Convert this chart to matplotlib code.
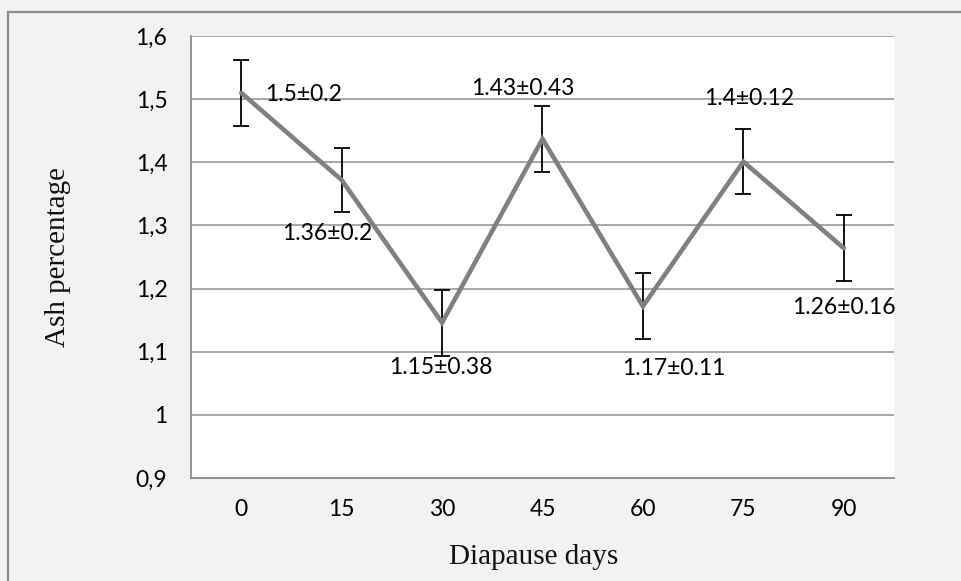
import matplotlib
matplotlib.use("Agg")
import matplotlib.pyplot as plt
from matplotlib.patches import Rectangle

# data
days = ["0", "15", "30", "45", "60", "75", "90"]
ash = [1.510, 1.372, 1.146, 1.437, 1.172, 1.401, 1.264]
err = [0.052, 0.051, 0.052, 0.052, 0.052, 0.051, 0.052]
point_labels = ["1.5±0.2", "1.36±0.2", "1.15±0.38", "1.43±0.43",
                "1.17±0.11", "1.4±0.12", "1.26±0.16"]
y_ticks = [0.9, 1.0, 1.1, 1.2, 1.3, 1.4, 1.5, 1.6]
y_tick_labels = ["0,9", "1", "1,1", "1,2", "1,3", "1,4", "1,5", "1,6"]

# where each data label sits relative to its point (pixels), and alignment
label_offsets = [(24, -2), (-14, -54), (-1, -45), (-20, 50),
                 (31, -62), (6, 63), (0, -59)]
label_ha = ["left", "center", "center", "center", "center", "center", "center"]

W, H = 961, 581
fig = plt.figure(figsize=(W / 100, H / 100), dpi=100)
fig.patch.set_facecolor("#f2f2f2")

# outer chart border (runs off the right and bottom edges)
fig.patches.append(Rectangle((8 / W, -0.2), 2.0, 1.2 - 12 / H,
                             transform=fig.transFigure, fill=False,
                             edgecolor="#8c8c8c", linewidth=1.6))

ax = fig.add_axes([191 / W, 1 - 478 / H, (894 - 191) / W, (478 - 36) / H])
ax.set_facecolor("white")

x = list(range(len(days)))
ax.errorbar(x, ash, yerr=err, fmt="none", ecolor="black", elinewidth=1.3,
            capsize=6, capthick=1.3, zorder=3)
ax.plot(x, ash, color="#808080", linewidth=3.3, solid_joinstyle="miter",
        solid_capstyle="round", zorder=4)

for i in range(len(x)):
    ax.annotate(point_labels[i], (x[i], ash[i]), xytext=label_offsets[i],
                textcoords="offset pixels", ha=label_ha[i], va="center",
                fontsize=16.5, family="Lato", color="#000000", zorder=5)

ax.set_xlim(-0.5, len(days) - 0.5)
ax.set_ylim(0.9, 1.6)
ax.set_yticks(y_ticks)
ax.set_yticklabels(y_tick_labels)
ax.set_xticks(x)
ax.set_xticklabels(days)
ax.tick_params(length=0, labelsize=16.5, colors="#000000")
ax.tick_params(axis="y", pad=17)
ax.tick_params(axis="x", pad=15)
for lab in ax.get_xticklabels() + ax.get_yticklabels():
    lab.set_family("Lato")

ax.grid(axis="y", color="#a0a0a0", linewidth=1.3)
ax.set_axisbelow(True)
for side in ["top", "right"]:
    ax.spines[side].set_visible(False)
for side in ["left", "bottom"]:
    ax.spines[side].set_color("#8c8c8c")
    ax.spines[side].set_linewidth(1.3)

fig.text(534 / W, 1 - 557 / H, "Diapause days", ha="center", va="center",
         fontsize=21, family="Liberation Serif", color="#111111")
fig.text(58 / W, 1 - 257 / H, "Ash percentage", ha="center", va="center",
         rotation=90, fontsize=21, family="Liberation Serif", color="#111111")

fig.savefig("out.png", dpi=100, facecolor=fig.get_facecolor())
